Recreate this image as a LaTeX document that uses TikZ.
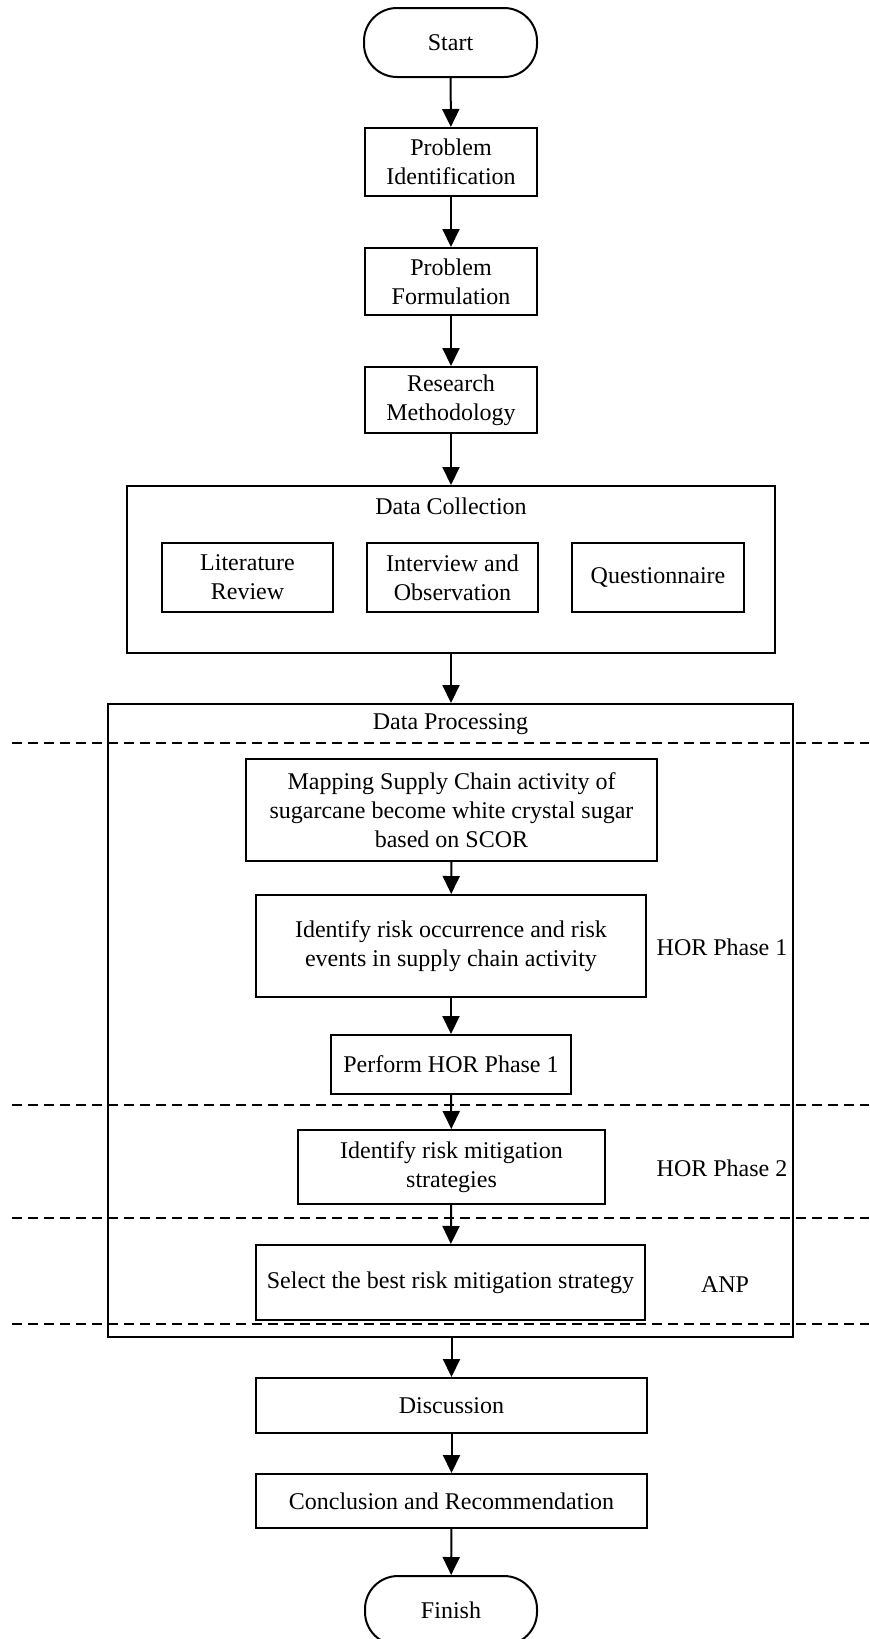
\documentclass[tikz,border=0pt]{standalone}
\usepackage{fontspec}
\setmainfont{Liberation Serif}
\usetikzlibrary{arrows.meta}

\begin{document}
\begin{tikzpicture}[x=0.5pt,y=-0.5pt]
                      \tikzstyle{every node}+=[inner sep=0pt, align=center, font=\fontsize{12}{14.6}\selectfont]
                      \tikzstyle{box}=[draw, black, line width=1pt]
                      \tikzstyle{term}=[box, rounded corners=16.5pt]
                      \tikzstyle{phase}=[fill=white, inner xsep=2pt, minimum height=22.5pt]
                      \tikzstyle{flow}=[black, line width=1pt, -{Triangle[length=9pt,width=8.5pt]}]
                      \tikzstyle{split}=[black, line width=1pt, dash pattern=on 5pt off 3pt]
                      \useasboundingbox (0,0) rectangle (869,1639);
                      \node [term, minimum width=86.5pt, minimum height=34.5pt] (start) at (450.5,42.5) {Start};
                      \node [box, minimum width=86pt, minimum height=34pt] (pident) at (451,162) {Problem\\Identification};
                      \node [box, minimum width=86pt, minimum height=33.5pt] (pform) at (451,281.5) {Problem\\Formulation};
                      \node [box, minimum width=86pt, minimum height=33pt] (rmeth) at (451,400) {Research\\Methodology};
                      \node [box, minimum width=324pt, minimum height=83.5pt] (dcoll) at (451,569.5) {};
                      \node (dcolltitle) at (451,506) {Data Collection};
                      \node [box, minimum width=85.5pt, minimum height=34.5pt] (litrev) at (247.5,577.5) {Literature\\Review};
                      \node [box, minimum width=85.5pt, minimum height=34.5pt] (intobs) at (452.5,577.5) {Interview and\\Observation};
                      \node [box, minimum width=86pt, minimum height=34.5pt] (quest) at (658,577.5) {Questionnaire};
                      \node [box, minimum width=342.5pt, minimum height=316.5pt] (dproc) at (450.5,1020.5) {};
                      \node (dproctitle) at (450.5,724) {Data Processing};
                      \node [box, minimum width=205.5pt, minimum height=51pt] (mapscor) at (451.5,810) {Mapping Supply Chain activity of\\sugarcane become white crystal sugar\\based on SCOR};
                      \node [box, minimum width=195pt, minimum height=51pt] (identrisk) at (451,946) {Identify risk occurrence and risk\\events in supply chain activity};
                      \node [box, minimum width=120pt, minimum height=29.5pt] (horone) at (451,1064.5) {Perform HOR Phase 1};
                      \node [box, minimum width=153.5pt, minimum height=37pt] (mitig) at (451.5,1167) {Identify risk mitigation\\strategies};
                      \node [box, minimum width=194.5pt, minimum height=37.5pt] (best) at (450.5,1282.5) {Select the best risk mitigation strategy};
                      \node [box, minimum width=195.5pt, minimum height=27.5pt] (disc) at (451.5,1405.5) {Discussion};
                      \node [box, minimum width=195.5pt, minimum height=27pt] (concl) at (451.5,1501) {Conclusion and Recommendation};
                      \node [term, minimum width=86pt, minimum height=34.5pt] (finish) at (451,1610.5) {Finish};
                      % phase separators
                      \foreach \y in {743,1105,1218,1324}
                        \draw [split] (12,\y) -- (869,\y);
                      \node [phase] (phaseone) at (722,947) {HOR Phase 1};
                      \node [phase] (phasetwo) at (722,1168) {HOR Phase 2};
                      \node (anp) at (725,1285) {ANP};
                      % arrows
                      \draw [flow] (start) -- (pident);
                      \draw [flow] (pident) -- (pform);
                      \draw [flow] (pform) -- (rmeth);
                      \draw [flow] (rmeth) -- (dcoll.north);
                      \draw [flow] (dcoll.south) -- (dcoll.south |- dproc.north);
                      \draw [flow] (mapscor) -- (identrisk);
                      \draw [flow] (identrisk) -- (horone);
                      \draw [flow] (horone) -- (mitig);
                      \draw [flow] (mitig) -- (best);
                      \draw [flow] (disc.north |- dproc.south) -- (disc);
                      \draw [flow] (disc) -- (concl);
                      \draw [flow] (concl) -- (finish);
                  \end{tikzpicture}
\end{document}
